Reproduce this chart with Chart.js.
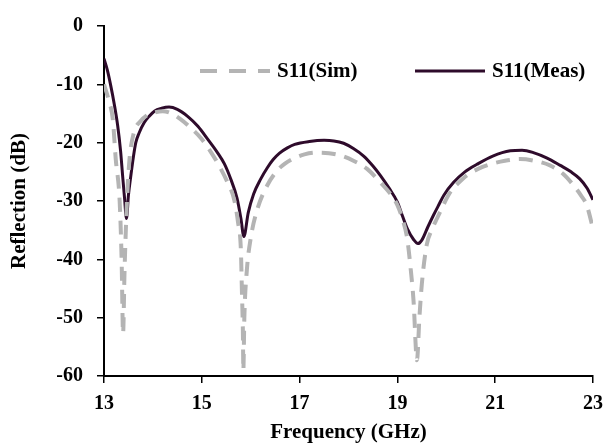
<!DOCTYPE html>
<html lang="en">
<head>
  <meta charset="UTF-8" />
  <title>S11 Reflection</title>
  <script src="https://cdn.jsdelivr.net/npm/chart.js"></script>
  <style>
    body {
      margin: 0;
      background: #fff;
    }
    .wrap {
      width: 604px;
      height: 445px;
    }
  </style>
</head>
<body>
  <div class="wrap">
    <canvas id="s11Chart" width="604" height="445"></canvas>
  </div>

  <script>
    // values (GHz / dB)
    const simFreq = [13.0, 13.1, 13.18, 13.24, 13.32, 13.36, 13.39, 13.42, 13.47, 13.52, 13.61, 13.75, 13.88, 14.0,
      14.2, 14.38, 14.57, 14.78, 14.98, 15.17, 15.35, 15.52, 15.66, 15.74, 15.8, 15.82, 15.84, 15.85, 15.87, 15.92,
      16.0, 16.14, 16.34, 16.54, 16.7, 16.88, 17.1, 17.36, 17.6, 17.84, 18.1, 18.38, 18.65, 18.85, 19.0, 19.1, 19.2,
      19.27, 19.33, 19.4, 19.45, 19.5, 19.6, 19.7, 19.81, 20.08, 20.25, 20.42, 20.65, 20.9, 21.2, 21.51, 21.8,
      22.12, 22.38, 22.6, 22.75, 22.87, 23.0];
    const simDb = [-10.0, -12.8, -16.0, -22.8, -30.0, -40.0, -52.7, -42.0, -30.0, -23.0, -18.3, -16.3, -15.3, -14.9,
      -14.6, -15.0, -16.0, -17.5, -19.2, -21.4, -23.9, -26.7, -29.7, -33.6, -38.6, -45.4, -52.2, -59.0, -50.0, -42.0,
      -36.4, -31.3, -27.3, -24.8, -23.6, -22.7, -22.0, -21.7, -21.8, -22.2, -23.1, -24.5, -26.8, -28.7, -30.7, -33.0,
      -36.4, -41.5, -47.1, -57.3, -50.0, -44.2, -37.5, -35.0, -33.0, -28.5, -26.9, -25.6, -24.5, -23.7, -23.1, -22.8,
      -23.1, -23.9, -25.3, -27.3, -29.0, -30.7, -34.7];

    const measFreq = [13.0, 13.07, 13.14, 13.21, 13.28, 13.34, 13.38, 13.42, 13.46, 13.5, 13.55, 13.6, 13.65, 13.72,
      13.82, 13.92, 14.03, 14.18, 14.33, 14.5, 14.71, 14.92, 15.12, 15.32, 15.46, 15.59, 15.72, 15.8, 15.86, 15.95,
      16.06, 16.2, 16.34, 16.46, 16.59, 16.75, 16.9, 17.2, 17.5, 17.7, 17.9, 18.1, 18.31, 18.5, 18.65, 18.83, 19.0,
      19.1, 19.2, 19.33, 19.42, 19.5, 19.62, 19.74, 19.85, 19.95, 20.15, 20.38, 20.63, 20.95, 21.31, 21.55, 21.78,
      22.05, 22.33, 22.55, 22.73, 22.88, 23.0];
    const measDb = [-5.6, -7.6, -10.3, -13.4, -17.1, -21.5, -25.6, -29.5, -33.0, -29.0, -25.6, -22.5, -20.0, -18.3,
      -16.6, -15.5, -14.6, -14.1, -13.9, -14.3, -15.5, -17.2, -19.4, -21.7, -23.6, -26.2, -29.5, -33.0, -36.1, -32.0,
      -28.8, -26.3, -24.3, -22.9, -21.8, -20.9, -20.3, -19.8, -19.6, -19.7, -20.1, -21.0, -22.3, -24.0, -25.6, -27.8,
      -30.2, -32.5, -34.7, -36.6, -37.3, -36.7, -34.5, -32.4, -30.6, -29.0, -26.8, -25.0, -23.7, -22.3, -21.4, -21.3,
      -21.7, -22.6, -23.9, -25.0, -26.2, -27.8, -29.8];

    const xTicks = [13, 15, 17, 19, 21, 23];
    const yTicks = [0, -10, -20, -30, -40, -50, -60];

    const seriesNames = ['S11(Sim)', 'S11(Meas)'];

    const toPoints = (xs, ys) => xs.map((x, i) => ({ x: x, y: ys[i] }));

    const serif = "'Liberation Serif', 'Times New Roman', serif";

    // legend sits inside the plot, drawn by hand
    const insideLegend = {
      id: 'insideLegend',
      afterDraw(chart) {
        const ctx = chart.ctx;
        const y = 71;
        const spots = [{ x0: 200, x1: 270, tx: 277 }, { x0: 415, x1: 485, tx: 492 }];
        chart.data.datasets.forEach((ds, i) => {
          const s = spots[i];
          ctx.save();
          ctx.strokeStyle = ds.borderColor;
          ctx.lineWidth = ds.borderWidth;
          ctx.setLineDash(ds.borderDash ? [17, 12] : []);
          ctx.beginPath();
          ctx.moveTo(s.x0, y);
          ctx.lineTo(s.x1, y);
          ctx.stroke();
          ctx.setLineDash([]);
          ctx.fillStyle = '#000';
          ctx.font = 'bold 21px ' + serif;
          ctx.textBaseline = 'middle';
          ctx.fillText(ds.label, s.tx, y + 1);
          ctx.restore();
        });
      }
    };

    const ctx = document.getElementById('s11Chart').getContext('2d');
    new Chart(ctx, {
      type: 'line',
      data: {
        datasets: [
          {
            label: seriesNames[0],
            data: toPoints(simFreq, simDb),
            borderColor: '#b4b4b4',
            borderWidth: 4,
            borderDash: [14, 9],
            pointRadius: 0,
            cubicInterpolationMode: 'monotone',
            fill: false
          },
          {
            label: seriesNames[1],
            data: toPoints(measFreq, measDb),
            borderColor: '#2e0b2b',
            borderWidth: 3,
            pointRadius: 0,
            cubicInterpolationMode: 'monotone',
            fill: false
          }
        ]
      },
      options: {
        responsive: false,
        animation: false,
        layout: { padding: { top: 12, right: 0, left: 0, bottom: 0 } },
        plugins: {
          legend: { display: false },
          tooltip: { enabled: false }
        },
        scales: {
          x: {
            type: 'linear',
            min: 13,
            max: 23,
            afterBuildTicks: s => { s.ticks = xTicks.map(v => ({ value: v })); },
            afterFit: s => {
              s.height = 69;
              s.paddingLeft = 0;
              s.paddingRight = 11;
            },
            grid: { drawOnChartArea: false, drawTicks: true, tickLength: 7, color: '#000', lineWidth: 1.5 },
            border: { display: true, color: '#000', width: 2 },
            ticks: { color: '#000', font: { family: serif, size: 20, weight: 'bold' }, padding: 9, maxRotation: 0 },
            title: {
              display: true,
              text: 'Frequency (GHz)',
              color: '#000',
              font: { family: serif, size: 21, weight: 'bold' },
              padding: { top: 2, bottom: 0 }
            }
          },
          y: {
            min: -60,
            max: 0,
            afterBuildTicks: s => { s.ticks = yTicks.map(v => ({ value: v })); },
            afterFit: s => { s.width = 104; },
            grid: { drawOnChartArea: false, drawTicks: true, tickLength: 7, color: '#000', lineWidth: 1.5 },
            border: { display: true, color: '#000', width: 2 },
            ticks: { color: '#000', font: { family: serif, size: 20, weight: 'bold' }, padding: 14 },
            title: {
              display: true,
              text: 'Reflection (dB)',
              color: '#000',
              font: { family: serif, size: 21, weight: 'bold' },
              padding: { top: 7, bottom: 0 }
            }
          }
        }
      },
      plugins: [insideLegend]
    });
  </script>
</body>
</html>
